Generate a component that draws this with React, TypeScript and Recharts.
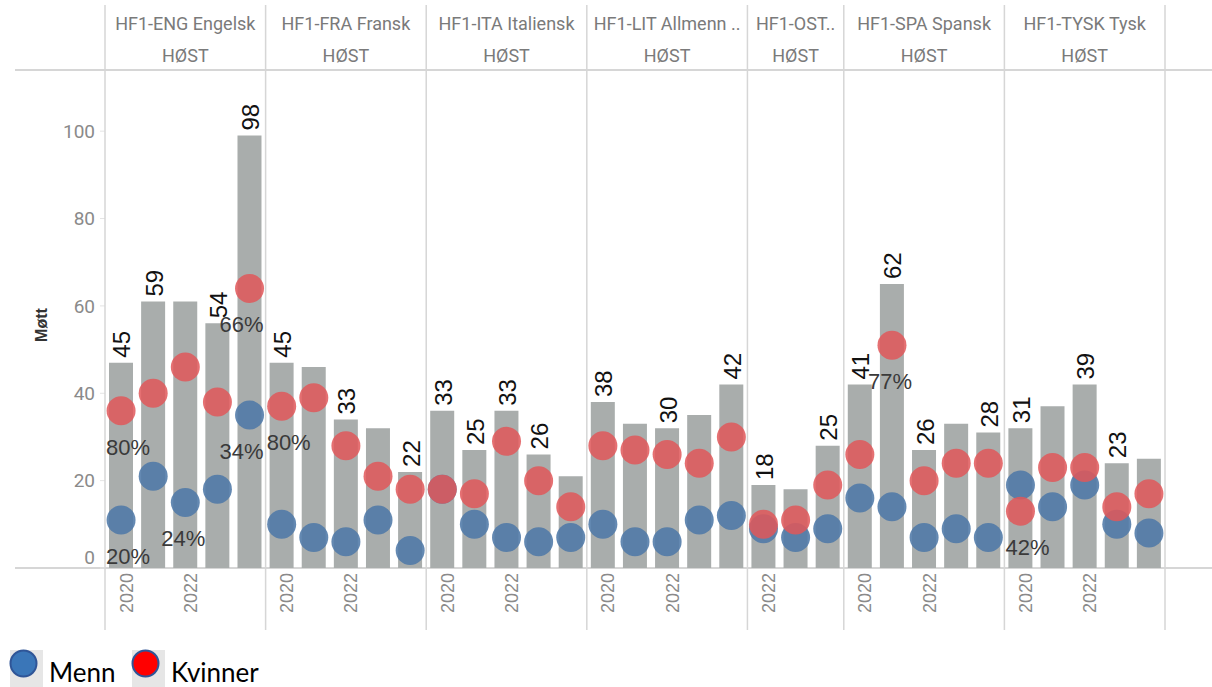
import React from 'react'
import { ComposedChart, Bar, Line, XAxis, YAxis, LabelList } from 'recharts'

// Fag (paneler) og år i hvert panel
const PANELS = [
  'HF1-ENG Engelsk',
  'HF1-FRA Fransk',
  'HF1-ITA Italiensk',
  'HF1-LIT Allmenn ..',
  'HF1-OST..',
  'HF1-SPA Spansk',
  'HF1-TYSK Tysk',
]
const SEMESTER = 'HØST'
const PANEL_YEARS = [
  [2020, 2021, 2022, 2023, 2024],
  [2020, 2021, 2022, 2023, 2024],
  [2020, 2021, 2022, 2023, 2024],
  [2020, 2021, 2022, 2023, 2024],
  [2022, 2023, 2024],
  [2020, 2021, 2022, 2023, 2024],
  [2020, 2021, 2022, 2023, 2024],
]
const SHOWN_YEARS = [2020, 2022]

// totalt (grå søyle)
const TOTALS = [47, 61, 61, 56, 99, 47, 46, 34, 32, 22, 36, 27, 36, 26, 21, 38, 33, 32, 35, 42, 19, 18, 28, 42, 65, 27, 33, 31, 32, 37, 42, 24, 25]
const MENN = [11, 21, 15, 18, 35, 10, 7, 6, 11, 4, 18, 10, 7, 6, 7, 10, 6, 6, 11, 12, 9, 7, 9, 16, 14, 7, 9, 7, 19, 14, 19, 10, 8]
const KVINNER = [36, 40, 46, 38, 64, 37, 39, 28, 21, 18, 18, 17, 29, 20, 14, 28, 27, 26, 24, 30, 10, 11, 19, 26, 51, 20, 24, 24, 13, 23, 23, 14, 17]
// Møtt-etiketter (null = ikke vist)
const MOTT = [45, 59, null, 54, 98, 45, null, 33, null, 22, 33, 25, 33, 26, null, 38, null, 30, null, 42, 18, null, 25, 41, 62, 26, null, 28, 31, null, 39, 23, null]
const KVINNER_PCT = ['80%', '', '', '', '66%', '80%', '', '', '', '', '', '', '', '', '', '', '', '', '', '', '', '', '', '', '77%', '', '', '', '42%', '', '', '', '']
const MENN_PCT = ['20%', '', '24%', '', '34%', '', '', '', '', '', '', '', '', '', '', '', '', '', '', '', '', '', '', '', '', '', '', '', '', '', '', '', '']

const Y_TICKS = [0, 20, 40, 60, 80, 100]

const W = 1212
const H = 687
const PLOT_LEFT = 105
const PLOT_RIGHT = 1165
const PLOT_TOP = 70
const PLOT_BOTTOM = 568

const GRID = '#d6d6d6'
const AXIS_TEXT = '#8a8a8a'
const HEADER_TEXT = '#7a7a7a'
const TICK_FONT = 'Roboto, "Liberation Sans", sans-serif'
const LABEL_FONT = '"Liberation Sans", Arial, sans-serif'

// prosent-etiketter flyttes litt sidelengs (Tableau unngår overlapp)
const PCT_DX_DEFAULT = 7
const PCT_DX: Record<string, number> = { '0-2024': -8, '0-2022': -2, '5-2021': -2 }

type Row = {
  key: string
  year: number
  panel: number
  pos: number
  count: number
  total: number
  menn: number
  kvinner: number
  mott: number | null
  mennPct: string
  kvinnerPct: string
}

const rows: Row[] = []
PANEL_YEARS.forEach((years, p) => {
  years.forEach((year, i) => {
    const idx = rows.length
    rows.push({
      key: `${p}-${year}`,
      year,
      panel: p,
      pos: i,
      count: years.length,
      total: TOTALS[idx],
      menn: MENN[idx],
      kvinner: KVINNER[idx],
      mott: MOTT[idx],
      mennPct: MENN_PCT[idx],
      kvinnerPct: KVINNER_PCT[idx],
    })
  })
})

function PanelTick(props: any) {
  const { x, index } = props
  const row = rows[index]
  if (!row) return null
  const band = (PLOT_RIGHT - PLOT_LEFT) / rows.length
  const parts: React.ReactNode[] = []
  if (SHOWN_YEARS.includes(row.year)) {
    const tx = x + 11.5
    const ty = PLOT_BOTTOM + 5
    parts.push(
      <text
        key="yr"
        x={tx}
        y={ty}
        transform={`rotate(-90, ${tx}, ${ty})`}
        textAnchor="end"
        fontSize={18}
        fontFamily={LABEL_FONT}
        fill={AXIS_TEXT}
      >
        {row.year}
      </text>
    )
  }
  if (row.pos === 0) {
    const left = x - band / 2
    const mid = left + (row.count * band) / 2
    parts.push(<line key="l" x1={left} x2={left} y1={5} y2={630} stroke={GRID} strokeWidth={1.5} />)
    parts.push(
      <text key="h1" x={mid} y={30} textAnchor="middle" fontSize={18} fontFamily={TICK_FONT} fill={HEADER_TEXT}>
        {PANELS[row.panel]}
      </text>
    )
    parts.push(
      <text key="h2" x={mid} y={62} textAnchor="middle" fontSize={18} fontFamily={TICK_FONT} fill={HEADER_TEXT}>
        {SEMESTER}
      </text>
    )
  }
  if (index === rows.length - 1) {
    const right = x + band / 2
    parts.push(<line key="r" x1={right} x2={right} y1={5} y2={630} stroke={GRID} strokeWidth={1.5} />)
  }
  return <g>{parts}</g>
}

function ValueTick(props: any) {
  const { x, y, payload, textAnchor } = props
  // nederste etikett (0) ligger litt over aksen, som i Tableau
  const shift = payload.value === 0 ? -11 : 0
  return (
    <text
      x={x}
      y={y + shift}
      dy="0.355em"
      textAnchor={textAnchor}
      fontSize={19}
      fontFamily={TICK_FONT}
      fill={AXIS_TEXT}
    >
      {payload.value}
    </text>
  )
}

function MottLabel(props: any) {
  const { x, y, width, value } = props
  if (value === null || value === undefined || value === '') return null
  const tx = x + width / 2 + 9.5
  const ty = y - 5
  return (
    <text
      x={tx}
      y={ty}
      transform={`rotate(-90, ${tx}, ${ty})`}
      textAnchor="start"
      fontSize={24}
      fontFamily={LABEL_FONT}
      fill="#111"
    >
      {value}
    </text>
  )
}

function PctLabel(props: any) {
  const { x, y, value, index } = props
  if (!value) return null
  const row = rows[index]
  const dx = row && PCT_DX[row.key] !== undefined ? PCT_DX[row.key] : PCT_DX_DEFAULT
  return (
    <text x={x + dx} y={y + 44} textAnchor="middle" fontSize={22} fontFamily={LABEL_FONT} fill="#3a3a3a">
      {value}
    </text>
  )
}

export default function App() {
  return (
    <div style={{ position: 'absolute', left: 0, top: 0, width: W, height: H, background: '#fff', overflow: 'hidden' }}>
      <svg width={W} height={H} style={{ position: 'absolute', left: 0, top: 0 }}>
        <line x1={15} x2={W} y1={PLOT_TOP} y2={PLOT_TOP} stroke={GRID} strokeWidth={2} />
        <line x1={15} x2={W} y1={PLOT_BOTTOM} y2={PLOT_BOTTOM} stroke={GRID} strokeWidth={2} />
      </svg>
      <div style={{ position: 'absolute', left: 0, top: 0 }}>
        <ComposedChart
          width={W}
          height={H}
          data={rows}
          margin={{ top: PLOT_TOP, right: W - PLOT_RIGHT - 47, bottom: H - PLOT_BOTTOM - 60, left: PLOT_LEFT - 60 }}
        >
          <XAxis
            dataKey="key"
            interval={0}
            height={60}
            axisLine={false}
            tickLine={false}
            tick={<PanelTick />}
          />
          <YAxis
            yAxisId="left"
            domain={[0, 114]}
            ticks={Y_TICKS}
            width={60}
            axisLine={false}
            tickLine={{ stroke: '#e4e4e4' }}
            tickSize={5}
            tickMargin={5}
            tick={<ValueTick />}
          />
          <YAxis
            yAxisId="right"
            orientation="right"
            domain={[0, 114]}
            ticks={Y_TICKS}
            width={47}
            axisLine={false}
            tickLine={{ stroke: '#e4e4e4' }}
            tickSize={5}
            tickMargin={5}
            tick={<ValueTick />}
          />
          <Bar yAxisId="left" dataKey="total" fill="#a9adac" barSize={24} isAnimationActive={false}>
            <LabelList dataKey="mott" content={<MottLabel />} />
          </Bar>
          <Line
            yAxisId="left"
            dataKey="menn"
            stroke="transparent"
            strokeWidth={0}
            dot={{ r: 14.5, fill: '#4e79a7', fillOpacity: 0.88, stroke: 'none' }}
            activeDot={false}
            isAnimationActive={false}
          >
            <LabelList dataKey="mennPct" content={<PctLabel />} />
          </Line>
          <Line
            yAxisId="left"
            dataKey="kvinner"
            stroke="transparent"
            strokeWidth={0}
            dot={{ r: 14.5, fill: '#e15759', fillOpacity: 0.85, stroke: 'none' }}
            activeDot={false}
            isAnimationActive={false}
          >
            <LabelList dataKey="kvinnerPct" content={<PctLabel />} />
          </Line>
        </ComposedChart>
      </div>
      <svg width={W} height={H} style={{ position: 'absolute', left: 0, top: 0, pointerEvents: 'none' }}>
        <text
          x={47}
          y={325}
          transform="rotate(-90, 47, 325)"
          textAnchor="middle"
          fontSize={16}
          fontWeight={600}
          fontFamily={LABEL_FONT}
          fill="#333"
        >
          Møtt
        </text>
        {/* legende */}
        <rect x={10} y={650} width={33} height={37} fill="#e6e6e6" />
        <circle cx={23.5} cy={663.5} r={13} fill="#3a76b8" stroke="#2f5597" strokeWidth={2} />
        <text x={49} y={682} fontSize={26} fontFamily="Lato, sans-serif" fill="#000">
          Menn
        </text>
        <rect x={132} y={650} width={33} height={37} fill="#e6e6e6" />
        <circle cx={145.5} cy={663.5} r={13} fill="#ff0000" stroke="#2f5597" strokeWidth={2} />
        <text x={171} y={682} fontSize={26} fontFamily="Lato, sans-serif" fill="#000">
          Kvinner
        </text>
      </svg>
    </div>
  )
}
